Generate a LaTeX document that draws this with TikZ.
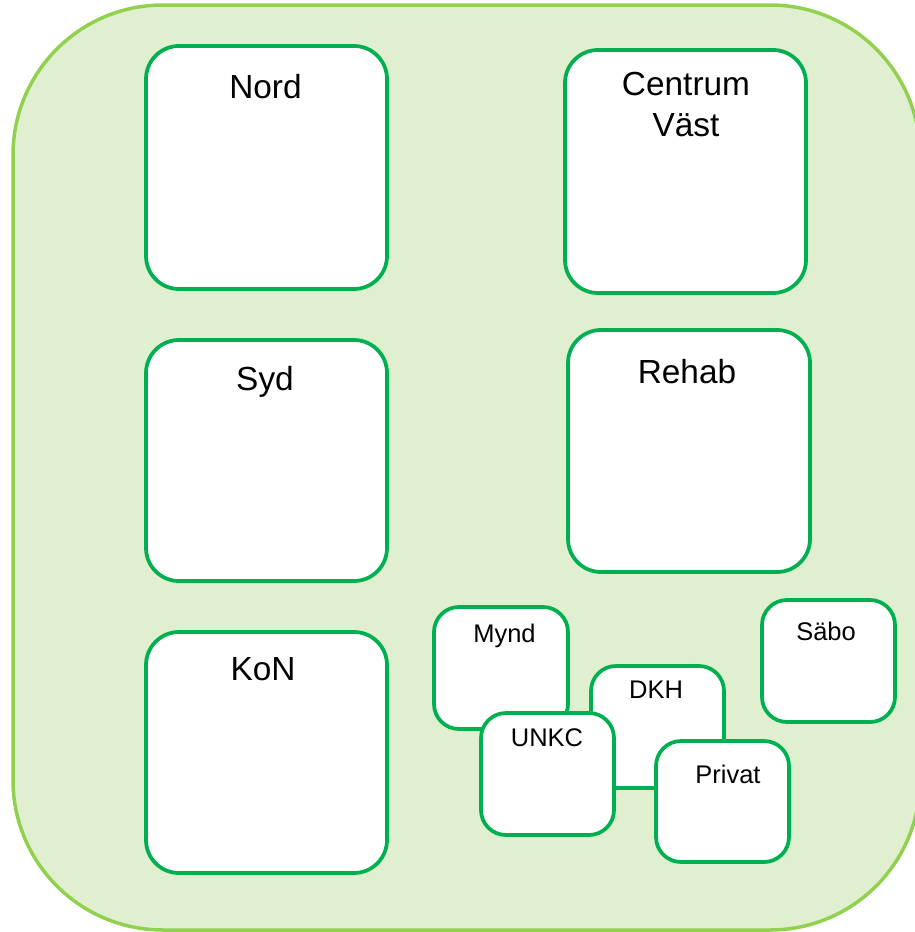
\documentclass[tikz,border=0pt]{standalone}
\usepackage{fontspec}
\setmainfont{Liberation Sans}
\usetikzlibrary{fit}
\definecolor{boxgreen}{HTML}{00B050}
\definecolor{areagreen}{HTML}{92D050}
\definecolor{areafill}{HTML}{E0EFD0}
\tikzset{
  area/.style={draw=areagreen, fill=areafill, line width=0.7mm, rounded corners=30mm, inner sep=0pt},
  bigbox/.style={draw=boxgreen, fill=white, line width=0.75mm, rounded corners=6.6mm, inner sep=0pt},
  smallbox/.style={draw=boxgreen, fill=white, line width=0.75mm, rounded corners=5mm, inner sep=0pt},
  biglbl/.style={anchor=base, inner sep=0pt, font=\fontsize{19}{23}\selectfont, align=center},
  smalllbl/.style={anchor=base, inner sep=0pt, font=\fontsize{14.5}{17}\selectfont}
}
\begin{document}
\begin{tikzpicture}[x=0.2mm,y=-0.2mm]
\useasboundingbox (0,0) rectangle (915,932);
\node[area, fit={(13,5) (920,930)}] (omrade) {};

% big units
\node[bigbox, fit={(146,46) (387,289)}] (nord) {};
\node[biglbl] (nordtxt) at (265.5,98) {Nord};
\node[bigbox, fit={(565,50) (806,293)}] (centrum) {};
\node[biglbl] (centrumtxt) at (686,95) {Centrum};
\node[biglbl] (vasttxt) at (686,136) {Väst};
\node[bigbox, fit={(146,340) (387,581)}] (syd) {};
\node[biglbl] (sydtxt) at (265,390) {Syd};
\node[bigbox, fit={(568,330) (810,572)}] (rehab) {};
\node[biglbl] (rehabtxt) at (687,383) {Rehab};
\node[bigbox, fit={(146,632) (387,873)}] (kon) {};
\node[biglbl] (kontxt) at (263,680) {KoN};

% small units
\node[smallbox, fit={(434,607) (568,729)}] (mynd) {};
\node[smalllbl] (myndtxt) at (504.5,642) {Mynd};
\node[smallbox, fit={(591,666) (724,788)}] (dkh) {};
\node[smalllbl] (dkhtxt) at (656,698) {DKH};
\node[smallbox, fit={(481,713) (614,835)}] (unkc) {};
\node[smalllbl] (unkctxt) at (547,746) {UNKC};
\node[smallbox, fit={(656,741) (789,862)}] (privat) {};
\node[smalllbl] (privattxt) at (728,783) {Privat};
\node[smallbox, fit={(762,600) (895,722)}] (sabo) {};
\node[smalllbl] (sabotxt) at (826,640) {Säbo};
\end{tikzpicture}
\end{document}
